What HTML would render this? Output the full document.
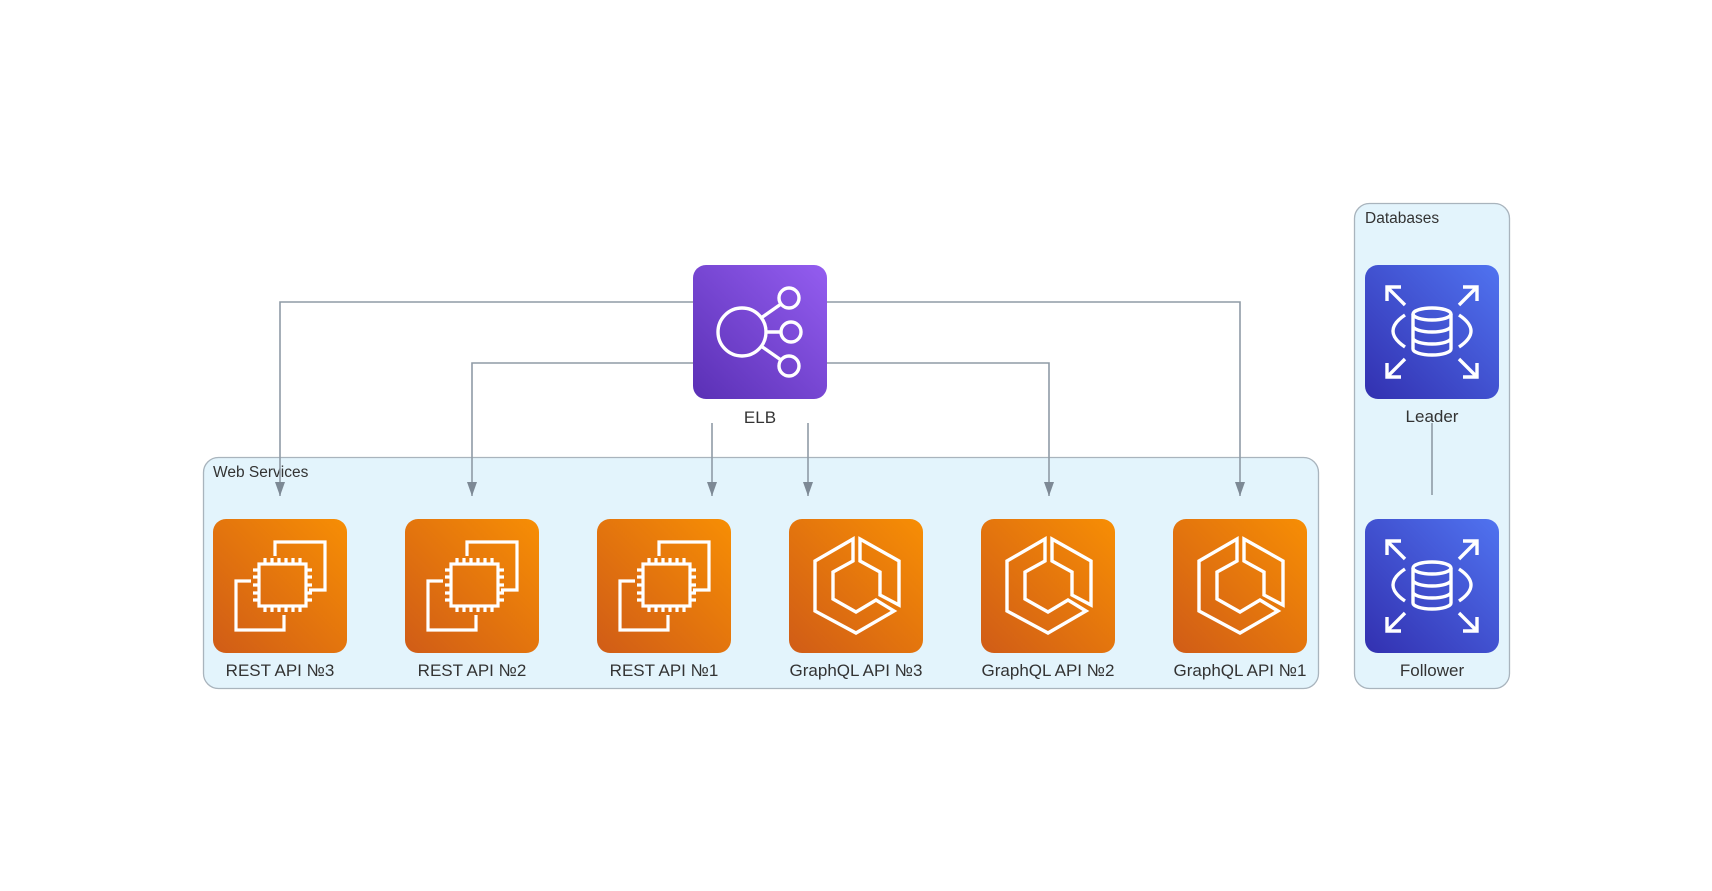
<!DOCTYPE html>
<html><head><meta charset="utf-8"><style>
html,body{margin:0;padding:0;background:#fff;}
svg{display:block;}
text{font-family:"Liberation Sans",sans-serif;fill:#333;}
</style></head><body>
<svg width="1712" height="891" viewBox="0 0 1712 891" xmlns="http://www.w3.org/2000/svg">
<defs>
<linearGradient id="og" x1="0" y1="1" x2="1" y2="0"><stop offset="0" stop-color="#D05C17"/><stop offset="1" stop-color="#F78E04"/></linearGradient>
<linearGradient id="pg" x1="0" y1="1" x2="1" y2="0"><stop offset="0" stop-color="#5A30B5"/><stop offset="1" stop-color="#945DF0"/></linearGradient>
<linearGradient id="bg" x1="0" y1="1" x2="1" y2="0"><stop offset="0" stop-color="#3230B0"/><stop offset="1" stop-color="#5073F0"/></linearGradient>
<marker id="ar" markerWidth="16" markerHeight="12" refX="14" refY="5" orient="auto" markerUnits="userSpaceOnUse"><path d="M0,0 L14,5 L0,10 Z" fill="#7d8995"/></marker>
<g id="ec2" fill="none" stroke="#fff" stroke-width="3.2">
<path d="M62,37 V23 H112 V71 H96"/>
<path d="M71,96 V111 H23 V62 H38"/>
<rect x="46" y="45" width="47" height="42"/>
<path d="M52,45v-6M59,45v-6M66,45v-6M73,45v-6M80,45v-6M87,45v-6M52,87v6M59,87v6M66,87v6M73,87v6M80,87v6M87,87v6M46,51h-6M46,58h-6M46,66h-6M46,74h-6M46,81h-6M93,51h6M93,58h6M93,66h6M93,74h6M93,81h6"/>
</g>
<g id="ecs" fill="none" stroke="#fff" stroke-width="3.4" stroke-linejoin="miter">
<path d="M64,20 L26,42 L26,92 L67,114 L105,92 L87,81 L67,93 L44,80 L44,53 L64,42 Z"/>
<path d="M71,20 L110,42 L110,86 L91,76 L91,53 L71,42 Z"/>
</g>
<g id="rds" fill="none" stroke="#fff" stroke-width="3.4">
<path d="M22,36 V22 H36 M22,22 L40,40"/>
<path d="M112,36 V22 H98 M112,22 L94,40"/>
<path d="M22,98 V112 H36 M22,112 L40,94"/>
<path d="M112,98 V112 H98 M112,112 L94,94"/>
<path d="M40,50 Q16,66 40,82"/>
<path d="M94,50 Q118,66 94,82"/>
<ellipse cx="67" cy="49" rx="19" ry="6"/>
<path d="M48,49 V84 A19,6 0 0 0 86,84 V49 M48,61 A19,6 0 0 0 86,61 M48,73 A19,6 0 0 0 86,73"/>
</g>
</defs>

<rect x="203.5" y="457.5" width="1115" height="231" rx="15" fill="#E3F4FC" stroke="#A9B4BD" stroke-width="1.3"/>
<text x="213" y="477" font-size="15.5">Web Services</text>
<rect x="1354.5" y="203.5" width="155" height="485" rx="15" fill="#E3F4FC" stroke="#A9B4BD" stroke-width="1.3"/>
<text x="1365" y="223" font-size="15.5">Databases</text>

<g fill="none" stroke="#8f9ba6" stroke-width="1.6">
<path d="M693,302 H280 V496" marker-end="url(#ar)"/>
<path d="M827,302 H1240 V496" marker-end="url(#ar)"/>
<path d="M693,363 H472 V496" marker-end="url(#ar)"/>
<path d="M827,363 H1049 V496" marker-end="url(#ar)"/>
<path d="M712,423 V496" marker-end="url(#ar)"/>
<path d="M808,423 V496" marker-end="url(#ar)"/>
<path d="M1432,423 V495"/>
</g>

<rect x="693" y="265" width="134" height="134" rx="13" fill="url(#pg)"/>
<g transform="translate(693,265)" fill="none" stroke="#fff" stroke-width="3.4">
<circle cx="49" cy="67" r="24"/>
<circle cx="96" cy="33" r="10"/><circle cx="98" cy="67" r="10"/><circle cx="96" cy="101" r="10"/>
<path d="M68,53 L88,39 M73,67 H88 M68,81 L88,95"/>
</g>
<text x="760" y="423" font-size="17" text-anchor="middle">ELB</text>

<rect x="213" y="519" width="134" height="134" rx="13" fill="url(#og)"/><use href="#ec2" x="213" y="519"/>
<text x="280" y="676" font-size="17" text-anchor="middle">REST API №3</text>
<rect x="405" y="519" width="134" height="134" rx="13" fill="url(#og)"/><use href="#ec2" x="405" y="519"/>
<text x="472" y="676" font-size="17" text-anchor="middle">REST API №2</text>
<rect x="597" y="519" width="134" height="134" rx="13" fill="url(#og)"/><use href="#ec2" x="597" y="519"/>
<text x="664" y="676" font-size="17" text-anchor="middle">REST API №1</text>
<rect x="789" y="519" width="134" height="134" rx="13" fill="url(#og)"/><use href="#ecs" x="789" y="519"/>
<text x="856" y="676" font-size="17" text-anchor="middle">GraphQL API №3</text>
<rect x="981" y="519" width="134" height="134" rx="13" fill="url(#og)"/><use href="#ecs" x="981" y="519"/>
<text x="1048" y="676" font-size="17" text-anchor="middle">GraphQL API №2</text>
<rect x="1173" y="519" width="134" height="134" rx="13" fill="url(#og)"/><use href="#ecs" x="1173" y="519"/>
<text x="1240" y="676" font-size="17" text-anchor="middle">GraphQL API №1</text>

<rect x="1365" y="265" width="134" height="134" rx="13" fill="url(#bg)"/><use href="#rds" x="1365" y="265"/>
<text x="1432" y="422" font-size="17" text-anchor="middle">Leader</text>
<rect x="1365" y="519" width="134" height="134" rx="13" fill="url(#bg)"/><use href="#rds" x="1365" y="519"/>
<text x="1432" y="676" font-size="17" text-anchor="middle">Follower</text>
</svg>
</body></html>
